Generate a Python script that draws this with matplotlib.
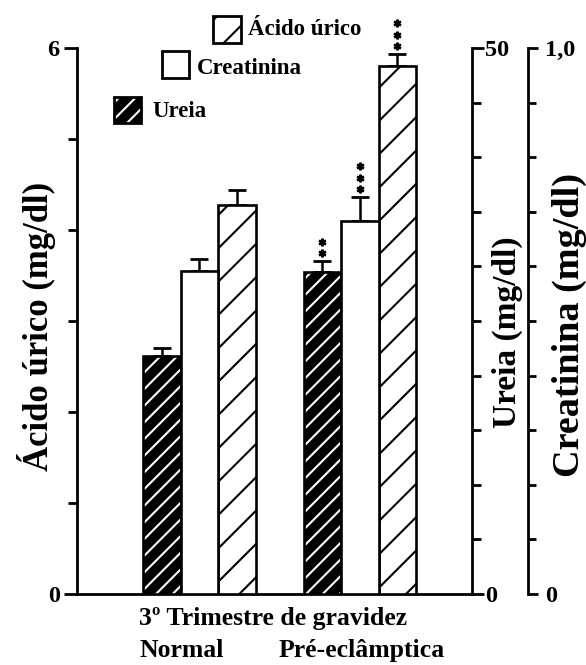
import matplotlib
matplotlib.use("Agg")
import matplotlib.pyplot as plt
from matplotlib.patches import Rectangle
from matplotlib.transforms import offset_copy
import numpy as np

# ---- data ----
groups = ["Normal", "Pré-eclâmptica"]
ureia = [21.8, 29.5]            # mg/dl (middle axis, 0-50)
ureia_err = [0.77, 1.0]
creatinina = [0.592, 0.683]     # mg/dl (outer axis, 0-1,0)
creatinina_err = [0.021, 0.045]
acido_urico = [4.27, 5.80]      # mg/dl (left axis, 0-6)
acido_urico_err = [0.17, 0.135]
ureia_sig = ["", "**"]
creatinina_sig = ["", "***"]
acido_urico_sig = ["", "***"]

plt.rcParams["font.family"] = ["Liberation Serif", "DejaVu Serif"]
plt.rcParams["font.weight"] = "bold"
plt.rcParams["hatch.linewidth"] = 1.5

W, H = 586, 665
fig = plt.figure(figsize=(W / 100, H / 100), dpi=100)


def fx(x):
    return x / W


def fy(y):
    return 1 - y / H


ax = fig.add_axes([fx(77), 71 / H, 395 / W, 546 / H])
ax2 = ax.twinx()
ax3 = ax.twinx()

x = np.arange(len(groups))
w = 0.2336
ax.set_xlim(-0.763, 1.698)
ax.set_ylim(0, 6)
ax2.set_ylim(0, 50)
ax3.set_ylim(0, 1.0)

edge_lw = 1.9
err_kw = dict(ecolor="black", elinewidth=1.8, capsize=6.5, capthick=2.0)

# Ureia: black with white hatching
ax2.bar(x - w, ureia, w, color="black", edgecolor="white", hatch="//",
        linewidth=0, zorder=2)
ax2.bar(x - w, ureia, w, fill=False, edgecolor="black", linewidth=edge_lw,
        zorder=3)
ax2.errorbar(x - w, ureia, yerr=[np.zeros(len(ureia)), ureia_err],
             fmt="none", zorder=1, **err_kw)

# Creatinina: plain white
ax3.bar(x, creatinina, w, color="white", edgecolor="black",
        linewidth=edge_lw, zorder=3)
ax3.errorbar(x, creatinina, yerr=[np.zeros(len(creatinina)), creatinina_err],
             fmt="none", zorder=1, **err_kw)

# Acido urico: white with black hatching
ax.bar(x + w, acido_urico, w, color="white", edgecolor="black", hatch="/",
       linewidth=edge_lw, zorder=3)
ax.errorbar(x + w, acido_urico,
            yerr=[np.zeros(len(acido_urico)), acido_urico_err],
            fmt="none", zorder=1, **err_kw)


def stars(axis, xs, vals, errs, sigs):
    for xi, v, e, s in zip(xs, vals, errs, sigs):
        for k in range(len(s)):
            tr = offset_copy(axis.transData, fig=fig, x=0,
                             y=(7.5 + 11.5 * k) * 0.72, units="points")
            axis.plot([xi], [v + e], marker=(6, 2, 0), markersize=5.5,
                      mew=1.7, color="black", transform=tr,
                      clip_on=False, zorder=4)


stars(ax2, x - w, ureia, ureia_err, ureia_sig)
stars(ax3, x, creatinina, creatinina_err, creatinina_sig)
stars(ax, x + w, acido_urico, acido_urico_err, acido_urico_sig)

# ---- axes styling ----
tick_font = dict(fontsize=17.5, fontweight="bold")

for a in (ax, ax2, ax3):
    for s in a.spines.values():
        s.set_visible(False)
        s.set_linewidth(2)
    a.set_xticks([])

ax.spines["left"].set_visible(True)
ax.spines["bottom"].set_visible(True)
ax.set_yticks([0, 6])
ax.set_yticklabels(["0", "6"], **tick_font)
ax.set_yticks(np.arange(1, 6), minor=True)
ax.tick_params(axis="y", which="major", direction="out", length=9.5,
               width=2, pad=3)
ax.tick_params(axis="y", which="minor", direction="out", length=6.5, width=2)

ax2.spines["right"].set_visible(True)
ax2.set_yticks([0, 50])
ax2.set_yticklabels(["0", "50"], **tick_font)
ax2.set_yticks(np.arange(5, 50, 5), minor=True)
ax2.tick_params(axis="y", which="major", direction="out", length=8.5,
               width=2, pad=1)
ax2.tick_params(axis="y", which="minor", direction="out", length=6.5, width=2)

ax3.spines["right"].set_visible(True)
ax3.spines["right"].set_position(("axes", 1.143))
ax3.set_yticks([0, 1.0])
ax3.set_yticklabels(["0", "1,0"], **tick_font)
ax3.set_yticks(np.arange(0.1, 1.0, 0.1), minor=True)
ax3.tick_params(axis="y", which="major", direction="out", length=7.5,
                width=2, pad=4.5)
ax3.tick_params(axis="y", which="minor", direction="out", length=6, width=2)

# ---- axis titles ----
fig.text(fx(37), fy(326), "Ácido úrico (mg/dl)", rotation=90,
         ha="center", va="center", fontsize=25, fontweight="bold")
fig.text(fx(507), fy(332), "Ureia (mg/dl)", rotation=90,
         ha="center", va="center", fontsize=24, fontweight="bold")
fig.text(fx(569), fy(325), "Creatinina (mg/dl)", rotation=90,
         ha="center", va="center", fontsize=27.5, fontweight="bold")

fig.text(fx(273), fy(625), "3º Trimestre de gravidez", ha="center",
         va="baseline", fontsize=18.5, fontweight="bold")
fig.text(fx(182), fy(657), groups[0], ha="center", va="baseline",
         fontsize=18.5, fontweight="bold")
fig.text(fx(361.5), fy(657), groups[1], ha="center", va="baseline",
         fontsize=18.5, fontweight="bold")

# ---- legend ----
def legend_box(x0, y0, x1, y1, label, base, tx, **style):
    fig.add_artist(Rectangle((fx(x0), fy(y1)), (x1 - x0) / W, (y1 - y0) / H,
                             transform=fig.transFigure, **style))
    fig.text(fx(tx), fy(base), label, ha="left", va="baseline",
             fontsize=16.5, fontweight="bold")


legend_box(213, 16, 241, 43, "Ácido úrico", 35, 248,
           facecolor="white", edgecolor="black", hatch="/", linewidth=2)
legend_box(162, 51, 189, 78, "Creatinina", 74, 197,
           facecolor="white", edgecolor="black", linewidth=2)
fig.add_artist(Rectangle((fx(114), fy(123)), 27 / W, 26 / H,
                         transform=fig.transFigure, facecolor="black",
                         edgecolor="white", hatch="//", linewidth=0))
legend_box(114, 97, 141, 123, "Ureia", 117, 152,
           fill=False, edgecolor="black", linewidth=2)

fig.savefig("out.png", dpi=100)
